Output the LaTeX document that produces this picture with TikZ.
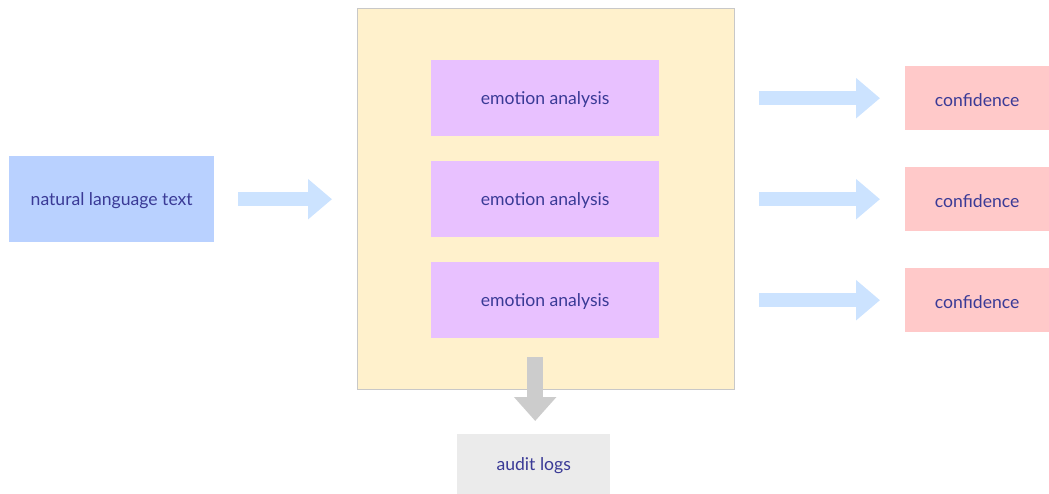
\documentclass[tikz,border=0pt]{standalone}
\usepackage{fontspec}
\setmainfont{Lato}
\usetikzlibrary{arrows.meta}
\definecolor{txt}{HTML}{3A3A96}
\definecolor{nltfill}{HTML}{B9D1FF}
\definecolor{bigfill}{HTML}{FFF1CC}
\definecolor{bigline}{HTML}{C8C8C8}
\definecolor{emofill}{HTML}{E8C1FF}
\definecolor{conffill}{HTML}{FFC9C9}
\definecolor{auditfill}{HTML}{EBEBEB}
\definecolor{bluearrow}{HTML}{CCE3FF}
\definecolor{grayarrow}{HTML}{CCCCCC}
\tikzset{
  box/.style={anchor=north west, inner sep=0pt},
  lbl/.style={text=txt, font=\fontsize{17.6}{20}\selectfont, yshift=-1.5pt},
  bluefat/.style={draw=bluearrow, line width=14pt, -{Triangle[length=24pt,width=39pt,fill=bluearrow]}},
  grayfat/.style={draw=grayarrow, line width=16pt, -{Triangle[length=24pt,width=41pt,fill=grayarrow]}}
}
\begin{document}
\begin{tikzpicture}[x=1pt,y=-1pt]
\useasboundingbox (0,0) rectangle (1049,494);
\node[box, fill=nltfill, minimum width=205pt, minimum height=86pt] (nlt) at (9,156) {};
\node[lbl] (nltt) at (nlt.center) {natural language text};
\node[box, fill=bigfill, draw=bigline, line width=0.8pt, minimum width=377pt, minimum height=381pt] (big) at (357,8) {};
\foreach \i/\y in {1/60,2/161,3/262}{
  \node[box, fill=emofill, minimum width=228pt, minimum height=76pt] (emo\i) at (431,\y) {};
  \node[lbl] (emot\i) at (emo\i.center) {emotion analysis};
}
\foreach \i/\y in {1/66,2/167,3/268}{
  \node[box, fill=conffill, minimum width=144pt, minimum height=64pt] (conf\i) at (905,\y) {};
  \node[lbl] (conft\i) at (conf\i.center) {confidence};
}
\node[box, fill=auditfill, minimum width=153pt, minimum height=60pt] (audit) at (457,434) {};
\node[lbl] (auditt) at (audit.center) {audit logs};
\draw[bluefat] ([xshift=24pt]nlt.east) -- ([xshift=-25pt]nlt.east -| big.west);
\foreach \i in {1,2,3}{
  \draw[bluefat] ([xshift=24pt]big.east |- conf\i.west) -- ([xshift=-25pt]conf\i.west);
}
\coordinate (dstart) at ([xshift=1.5pt,yshift=-19pt]emo3.south -| audit.north);
\coordinate (dend) at ([xshift=1.5pt,yshift=13pt]audit.north);
\draw[grayfat] (dstart) -- (dend);
\end{tikzpicture}
\end{document}
